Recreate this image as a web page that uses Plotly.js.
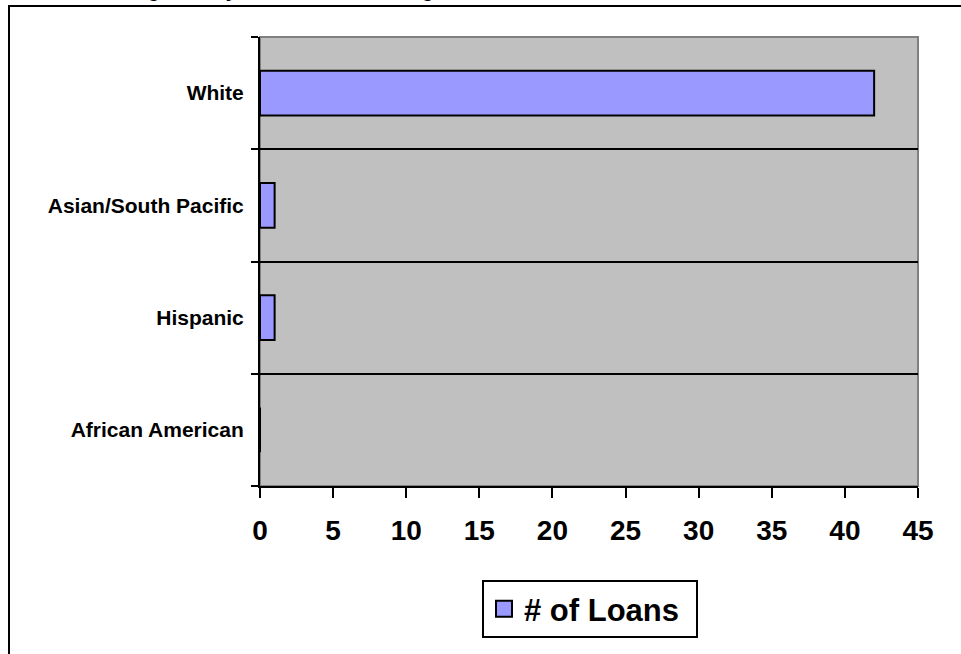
<!DOCTYPE html>
<html>
<head>
<meta charset="utf-8">
<script src="https://cdn.plot.ly/plotly-3.0.1.min.js"></script>
<style>
  html, body { margin: 0; padding: 0; background: #ffffff; }
  #chart { width: 961px; height: 654px; }
</style>
</head>
<body>
<div id="chart"></div>
<script>
// Loan counts by borrower race/ethnicity (bottom to top)
const categories = ['African American', 'Hispanic', 'Asian/South Pacific', 'White'];
const loanCounts = [0, 1, 1, 42];
const seriesName = '# of Loans';
const xTickValues = [0, 5, 10, 15, 20, 25, 30, 35, 40, 45];
const chartTitle = 'Home Lending Activity: Affordable Housing';

const FONT = 'Arial, "Liberation Sans", sans-serif';
const BAR_FILL = '#9999FF';

const bars = {
  type: 'bar',
  orientation: 'h',
  y: categories,
  x: loanCounts,
  width: 0.4,
  name: seriesName,
  showlegend: false,
  marker: { color: BAR_FILL, line: { color: '#000000', width: 2 } },
  hoverinfo: 'x+y'
};

// Legend entry with a larger square swatch
const legendEntry = {
  type: 'scatter',
  mode: 'markers',
  x: [null],
  y: [null],
  name: seriesName,
  showlegend: true,
  marker: { symbol: 'square', size: 16, color: BAR_FILL, line: { color: '#000000', width: 2 } }
};

const W = 961, H = 654;
const L = 260, R = 918, T = 37, B = 486;
const px = v => (v - L) / (R - L);
const py = v => (B - v) / (B - T);

const layout = {
  width: W,
  height: H,
  autosize: false,
  margin: { l: L, r: W - R, t: T, b: H - B, pad: 0 },
  paper_bgcolor: '#ffffff',
  plot_bgcolor: '#C0C0C0',
  font: { family: FONT, color: '#000000' },
  bargap: 0.6,
  xaxis: {
    range: [0, 45],
    tickvals: xTickValues,
    ticks: 'outside',
    ticklen: 10,
    tickwidth: 2,
    tickcolor: '#000000',
    showline: true,
    linecolor: '#000000',
    linewidth: 2,
    showgrid: false,
    zeroline: false,
    fixedrange: true,
    ticklabelstandoff: 8,
    tickfont: { family: FONT, size: 28, weight: 'bold', color: '#000000' }
  },
  yaxis: {
    type: 'category',
    categoryorder: 'array',
    categoryarray: categories,
    range: [-0.5, 3.5],
    tickson: 'boundaries',
    ticks: 'outside',
    ticklen: 7,
    tickwidth: 2,
    tickcolor: '#000000',
    showline: true,
    linecolor: '#000000',
    linewidth: 2,
    showgrid: true,
    gridcolor: '#000000',
    gridwidth: 2,
    zeroline: false,
    fixedrange: true,
    ticklabelstandoff: 10,
    tickfont: { family: FONT, size: 21, weight: 'bold', color: '#000000' }
  },
  showlegend: true,
  legend: {
    x: px(590),
    xanchor: 'center',
    y: py(580),
    yanchor: 'top',
    orientation: 'h',
    entrywidth: 167,
    bgcolor: '#ffffff',
    bordercolor: '#000000',
    borderwidth: 2,
    font: { family: FONT, size: 31, weight: 'bold', color: '#000000' }
  },
  shapes: [
    // outer chart frame
    {
      type: 'rect', xref: 'paper', yref: 'paper', layer: 'below',
      x0: px(9), x1: px(1000), y0: py(6), y1: py(700),
      line: { color: '#000000', width: 2 }, fillcolor: 'rgba(0,0,0,0)'
    },
    // plot area border (top and right edges)
    {
      type: 'rect', xref: 'paper', yref: 'paper', layer: 'below',
      x0: 0, x1: 1, y0: 0, y1: 1,
      line: { color: '#808080', width: 2 }, fillcolor: 'rgba(0,0,0,0)'
    }
  ],
  annotations: [
    {
      text: chartTitle,
      xref: 'paper', yref: 'paper',
      x: px(19), xanchor: 'left',
      y: py(3.5), yanchor: 'bottom',
      showarrow: false,
      font: { family: FONT, size: 20, weight: 'bold', color: '#000000' }
    }
  ]
};

Plotly.newPlot('chart', [bars, legendEntry], layout, { displayModeBar: false, staticPlot: true });
</script>
</body>
</html>
